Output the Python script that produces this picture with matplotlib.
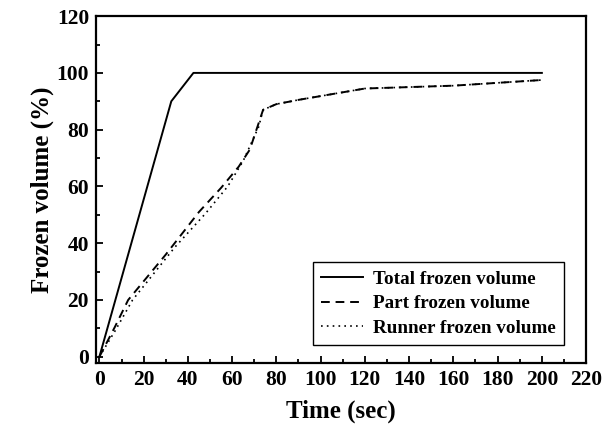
import matplotlib
matplotlib.use("Agg")
import matplotlib.pyplot as plt
from matplotlib.ticker import MultipleLocator

total_t = [0, 32.5, 42.5, 200]
total_v = [0, 90, 100, 100]

part_t = [0, 7, 13, 30, 45, 55, 63, 68, 74, 80, 90, 120, 160, 200]
part_v = [0, 10.5, 20, 36, 51, 59.5, 67, 73, 87, 89, 90.5, 94.5, 95.5, 97.5]

runner_t = [0, 7, 15, 34, 48, 58, 65, 72, 74, 80, 90, 120, 160, 200]
runner_v = [0, 9, 20, 38.5, 50.5, 60, 69, 81, 87, 89, 90.5, 94.5, 95.5, 97.5]

plt.rcParams['font.family'] = ['Liberation Serif', 'DejaVu Serif']
plt.rcParams['font.weight'] = 'bold'

fig = plt.figure(figsize=(6.08, 4.36), dpi=100)
ax = fig.add_axes([0.158, 0.1674, 0.806, 0.7956])

ax.plot(total_t, total_v, color='black', lw=1.4, label='Total frozen volume')
ax.plot(part_t, part_v, color='black', lw=1.4, dashes=(4.5, 3), label='Part frozen volume')
ax.plot(runner_t, runner_v, color='black', lw=1.2, dashes=(1, 2.5), label='Runner frozen volume')

ax.set_xlim(-1.5, 220)
ax.set_ylim(-2.2, 120)
ax.xaxis.set_major_locator(MultipleLocator(20))
ax.xaxis.set_minor_locator(MultipleLocator(10))
ax.yaxis.set_major_locator(MultipleLocator(20))
ax.yaxis.set_minor_locator(MultipleLocator(10))
ax.tick_params(which='both', direction='in', top=False, right=False, width=1.3)
ax.tick_params(which='major', length=5, labelsize=15.5, pad=5)
ax.tick_params(which='minor', length=3)
for lab in ax.get_xticklabels() + ax.get_yticklabels():
    lab.set_fontweight('bold')
for s in ax.spines.values():
    s.set_linewidth(1.6)

ax.set_xlabel('Time (sec)', fontsize=18, fontweight='bold', labelpad=7)
ax.set_ylabel('Frozen volume (%)', fontsize=18, fontweight='bold', labelpad=2)

leg = ax.legend(loc='lower left', bbox_to_anchor=(0.443, 0.052), borderaxespad=0,
                fancybox=False, edgecolor='black', framealpha=1,
                prop={'size': 13.8, 'weight': 'bold'}, handlelength=2.2,
                handletextpad=0.5, labelspacing=0.38, borderpad=0.42)
leg.get_frame().set_linewidth(1.0)

fig.savefig('out.png', dpi=100)
